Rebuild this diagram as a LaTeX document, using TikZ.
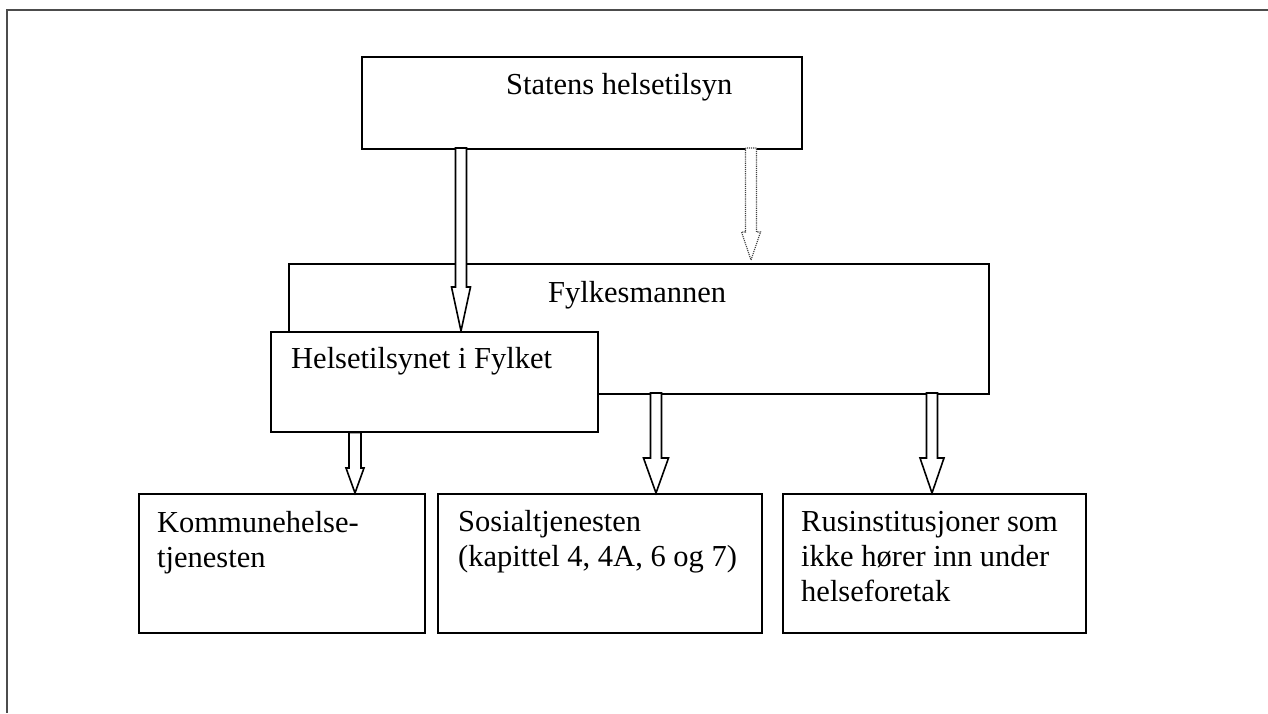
\documentclass[tikz,border=0pt]{standalone}
\usepackage{fontspec}
\setmainfont{Liberation Serif}
\usetikzlibrary{calc}
\tikzset{
  box/.style={draw=black, line width=1.6pt, fill=white, rectangle, inner sep=0pt, anchor=north west},
  lbl/.style={anchor=base west, inner sep=0pt, align=left, font=\fontsize{30.5}{35}\selectfont},
  barrowstyle/.style={draw=black, line width=1.6pt, fill=white, line join=miter},
  dotarrowstyle/.style={draw=black!75, line width=1.1pt, densely dotted, fill=white},
  frame/.style={draw=black!70, line width=2pt}
}
% #1 style, #2 start, #3 end, #4 half shaft width, #5 half head width, #6 head length
\newcommand{\blockarrow}[6]{%
  \path[#1] let \p1=(#2), \p2=(#3) in
    ({\x1-#4pt},{\y1}) -- ({\x1-#4pt},{\y2+#6pt}) -- ({\x1-#5pt},{\y2+#6pt}) --
    ({\x1},{\y2}) -- ({\x1+#5pt},{\y2+#6pt}) -- ({\x1+#4pt},{\y2+#6pt}) --
    ({\x1+#4pt},{\y1}) -- cycle;}
\begin{document}
\begin{tikzpicture}[x=1pt,y=-1pt]
\useasboundingbox (0,0) rectangle (1268,713);
% frame
\coordinate (ftl) at (7,10);
\coordinate (ftr) at (1268,10);
\coordinate (fbl) at (7,713);
\draw[frame] (ftr) -- (ftl) -- (fbl);
% boxes
\node[box, minimum width=440pt, minimum height=92pt] (statens) at (361,56) {};
\node[box, minimum width=700pt, minimum height=130pt] (fylke) at (288,263) {};
% arrows from statens
\coordinate (a1s) at (461,148);
\coordinate (a1e) at (461,331);
\blockarrow{barrowstyle}{a1s}{a1e}{5.5}{9.5}{44}
\coordinate (a2s) at (751,148);
\coordinate (a2e) at (751,260);
\blockarrow{dotarrowstyle}{a2s}{a2e}{5.5}{9.5}{28}
\node[box, minimum width=327pt, minimum height=100pt] (helse) at (270,331) {};
\node[box, minimum width=286pt, minimum height=139pt] (kommune) at (138,493) {};
\node[box, minimum width=324pt, minimum height=139pt] (sosial) at (437,493) {};
\node[box, minimum width=303pt, minimum height=139pt] (rus) at (782,493) {};
% lower arrows
\coordinate (b1s) at ($(helse.south west)+(85,0)$);
\coordinate (b1e) at (kommune.north -| b1s);
\blockarrow{barrowstyle}{b1s}{b1e}{6}{9}{25}
\coordinate (b2s) at (656,393);
\coordinate (b2e) at (sosial.north -| b2s);
\blockarrow{barrowstyle}{b2s}{b2e}{5.5}{12.5}{35}
\coordinate (b3s) at (932,393);
\coordinate (b3e) at (rus.north -| b3s);
\blockarrow{barrowstyle}{b3s}{b3e}{5.5}{12}{35}
% labels (base = baseline of the last line)
\node[lbl] (tstatens) at (506,94) {Statens helsetilsyn};
\node[lbl] (tfylke) at (548,302) {Fylkesmannen};
\node[lbl] (thelse) at (291,368) {Helsetilsynet i Fylket};
\node[lbl] (tkommune) at (157,567) {Kommunehelse-\\tjenesten};
\node[lbl] (tsosial) at (458,566) {Sosialtjenesten\\(kapittel 4, 4A, 6 og 7)};
\node[lbl] (trus) at (801,601) {Rusinstitusjoner som\\ikke hører inn under\\helseforetak};
\end{tikzpicture}
\end{document}
